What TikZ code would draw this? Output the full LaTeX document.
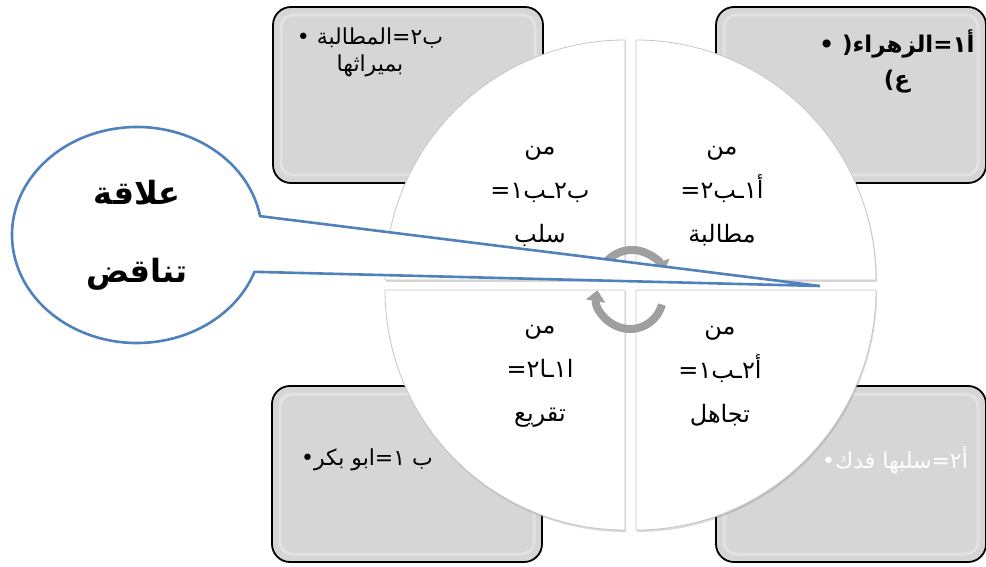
\documentclass[tikz,border=0pt]{standalone}
\usepackage{fontspec}
\newfontfamily\arabicfont[Script=Arabic]{DejaVu Sans}
\TeXXeTstate=1
\usetikzlibrary{positioning,shapes.callouts,arrows.meta,shadows}
\definecolor{calloutblue}{HTML}{4F81BD}
\definecolor{boxgray}{HTML}{D6D6D6}

\begin{document}
\begin{tikzpicture}[
    x=1pt, y=1pt,
    corner/.style={rectangle, draw, line width=1.8pt, fill=boxgray, rounded corners=18pt, minimum width=270pt, minimum height=176pt,
        path picture={\draw[white, opacity=0.3, line width=3pt, rounded corners=12pt]
            ([shift={(8pt,8pt)}]path picture bounding box.south west) rectangle ([shift={(-8pt,-8pt)}]path picture bounding box.north east);}},
    quarter/.style={fill=white, draw=gray!45, line width=0.8pt, drop shadow={opacity=0.3, shadow xshift=1pt, shadow yshift=-2pt}},
    quadtext/.style={font=\arabicfont\fontsize{24}{44}\selectfont, align=center},
    boxtext/.style={font=\arabicfont\fontsize{22}{27}\selectfont},
    turn/.style={gray!75, line width=8pt, -{Triangle[width=19pt,length=11pt]}}
]
\useasboundingbox (0,0) rectangle (986,566);

% Corner boxes
\node[corner] (b2) at (408,471) {};
\node[corner] (a1) at (851,471) {};
\node[corner] (b1) at (407,92) {};
\node[corner] (a2) at (851,92) {};

% Box texts
\node[boxtext, align=center] (b2text) at (370,514) {\beginR ب٢=المطالبة •\endR\\\beginR بميراثها\endR};
\node[boxtext, font=\arabicfont\bfseries\fontsize{23}{35}\selectfont, align=center] (a1text) at (897,505) {\beginR أ١=الزهراء( •\endR\\\beginR ع)\endR};
\node[boxtext] (b1text) at (367,106) {\beginR ب ١=ابو بكر•\endR};
\node[boxtext, text=white] (a2text) at (895,106) {\beginR أ٢=سلبها فدك•\endR};

% Circle quarters
\path[quarter] (636,286) -- ++(0,240) arc[start angle=90, end angle=0, radius=240] -- cycle;
\path[quarter] (625,286) -- ++(0,240) arc[start angle=90, end angle=180, radius=240] -- cycle;
\path[quarter] (625,276) -- ++(-240,0) arc[start angle=180, end angle=270, radius=240] -- cycle;
\path[quarter] (636,276) -- ++(0,-240) arc[start angle=270, end angle=360, radius=240] -- cycle;

% Quarter texts
\node[quadtext] (q1) at (722,370) {\beginR من\endR\\\beginR أ١ـب٢=\endR\\\beginR مطالبة\endR};
\node[quadtext] (q2) at (540,370) {\beginR من\endR\\\beginR ب٢ـب١=\endR\\\beginR سلب\endR};
\node[quadtext] (q3) at (540,190) {\beginR من\endR\\\beginR ا١ـا٢=\endR\\\beginR تقريع\endR};
\node[quadtext] (q4) at (720,190) {\beginR من\endR\\\beginR أ٢ـب١=\endR\\\beginR تجاهل\endR};

% Turning arrows
\coordinate (upper) at (632,282);
\coordinate (lower) at (630,270);
\draw[turn] (upper) ++(165:34) arc[start angle=165, end angle=20, radius=34];
\draw[turn] (lower) ++(-15:33) arc[start angle=-15, end angle=-190, radius=33];

% Callout
\coordinate (tip) at (820,280);
\node[ellipse callout, draw=calloutblue, line width=2.6pt, fill=white, minimum width=250pt, minimum height=216pt, callout absolute pointer=(tip), callout pointer arc=30, font=\arabicfont\bfseries\fontsize{32}{78}\selectfont, align=center] (callout) at (137,331) {\beginR علاقة\endR\\\beginR تناقض\endR};

\end{tikzpicture}
\end{document}
